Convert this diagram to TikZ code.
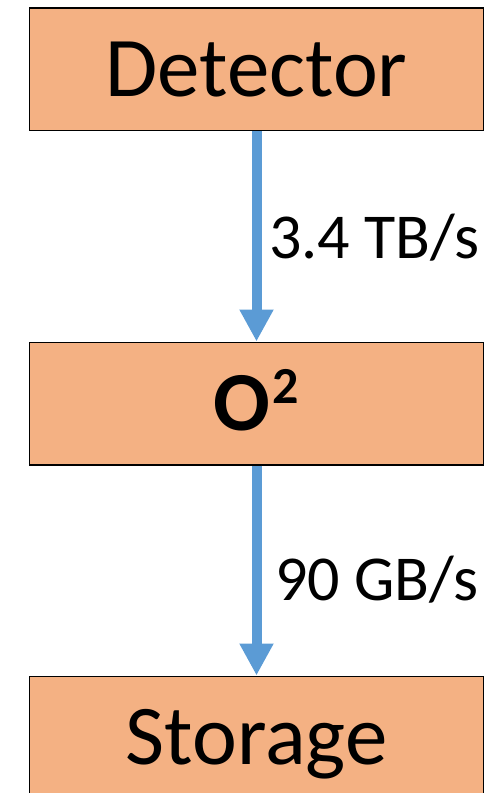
\documentclass[tikz,border=0pt]{standalone}
\usepackage{fontspec}
\setmainfont{Carlito}
\usetikzlibrary{arrows.meta}
\definecolor{boxfill}{HTML}{F4B183}
\definecolor{arrowblue}{HTML}{5B9BD5}
\begin{document}
\begin{tikzpicture}[x=1pt,y=-1pt,
  box/.style={draw=black, line width=1.5pt, fill=boxfill, minimum width=454pt,
    minimum height=122.5pt, inner sep=0pt, text height=54pt, text depth=0pt,
    font=\fontsize{85}{100}\selectfont},
  flow/.style={draw=arrowblue, line width=10pt, -{Triangle[width=32pt,length=32pt]}},
  rate/.style={anchor=base west, inner sep=0pt, font=\fontsize{64}{76}\selectfont}]
\useasboundingbox (0,0) rectangle (487,793);
\clip (0,0) rectangle (487,793);
\node[box] (det) at (256.5,69) {Detector};
\node[box, font=\fontsize{84}{100}\selectfont\bfseries] (o2) at (256.5,403.5)
  {O\hspace{2pt}\raisebox{27pt}{\fontsize{52}{52}\selectfont 2}};
\node[box] (sto) at (256.5,737.5) {Storage};
\draw[flow] (det.south) -- (o2.north);
\draw[flow] (o2.south) -- (sto.north);
\node[rate] (r1) at (269,258) {3.4 TB/s};
\node[rate] (r2) at (275,600) {90 GB/s};
\end{tikzpicture}
\end{document}
